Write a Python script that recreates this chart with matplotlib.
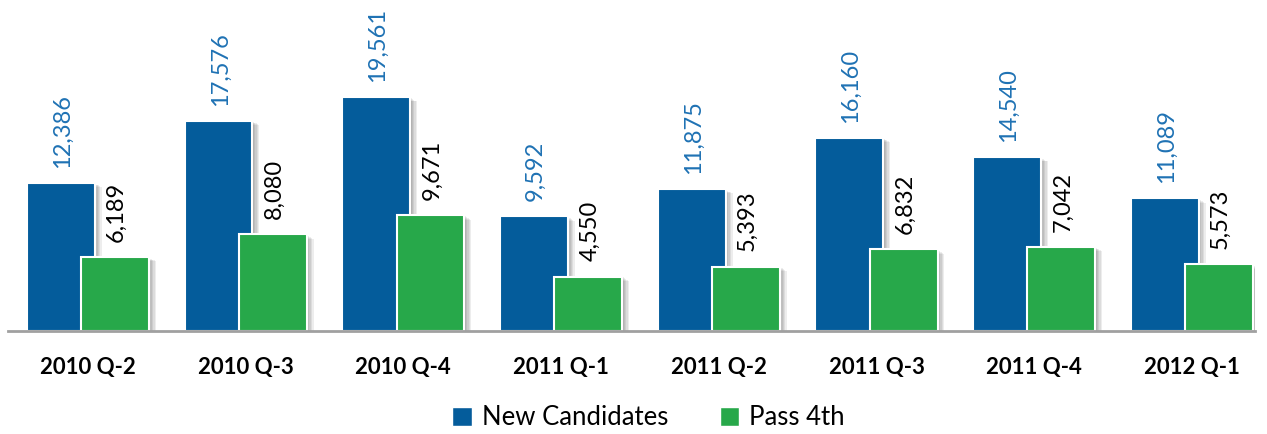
import numpy as np
import matplotlib
matplotlib.use('Agg')
import matplotlib.pyplot as plt
import matplotlib.patheffects as pe
from matplotlib.patches import Patch

quarters = ['2010 Q-2', '2010 Q-3', '2010 Q-4', '2011 Q-1', '2011 Q-2', '2011 Q-3', '2011 Q-4', '2012 Q-1']
new_candidates = [12386, 17576, 19561, 9592, 11875, 16160, 14540, 11089]
pass_4th = [6189, 8080, 9671, 4550, 5393, 6832, 7042, 5573]

blue = '#045c9b'
green = '#27a84a'
label_blue = '#1f72b4'

plt.rcParams['font.family'] = ['Lato', 'DejaVu Sans']

fig = plt.figure(figsize=(12.67, 4.34), dpi=100)
ax = fig.add_axes([8 / 1267, 103 / 434, 1247 / 1267, 331 / 434])

x = np.arange(len(quarters))
w = 0.43
off = 0.172
# soft drop shadow: several faint offset copies
shadow = [pe.SimplePatchShadow(offset=(k, -k * 0.6), shadow_rgbFace='#000000', alpha=0.07)
          for k in (1, 2, 3, 4, 5)] + [pe.Normal()]

b1 = ax.bar(x - off, new_candidates, w, color=blue, edgecolor='white', linewidth=1.5, zorder=2)
b2 = ax.bar(x + off, pass_4th, w, color=green, edgecolor='white', linewidth=1.5, zorder=3)
for b in list(b1) + list(b2):
    b.set_path_effects(shadow)

for xi, v in zip(x - off, new_candidates):
    ax.annotate(f'{v:,}', (xi, v), xytext=(1, 11), textcoords='offset points',
                rotation=90, ha='center', va='bottom', fontsize=17, color=label_blue)
for xi, v in zip(x + off, pass_4th):
    ax.annotate(f'{v:,}', (xi, v), xytext=(1, 11), textcoords='offset points',
                rotation=90, ha='center', va='bottom', fontsize=17, color='black')

ax.set_xlim(-0.507, 7.4)
ax.set_ylim(0, 27700)
ax.set_xticks(x)
ax.set_xticklabels(quarters, fontsize=16, fontweight='bold')
ax.tick_params(axis='x', length=0, pad=19)
ax.set_yticks([])
for s in ['top', 'right', 'left']:
    ax.spines[s].set_visible(False)
ax.spines['bottom'].set_color('#a0a0a0')
ax.spines['bottom'].set_linewidth(2)
ax.spines['bottom'].set_zorder(5)

handles = [Patch(facecolor=blue, edgecolor='white'), Patch(facecolor=green, edgecolor='white')]
fig.legend(handles=handles, labels=['New Candidates', 'Pass 4th'], loc='lower center',
           bbox_to_anchor=(0.512, -0.045), ncol=2, frameon=False, fontsize=18.5,
           handlelength=0.75, handleheight=0.75, handletextpad=0.4, columnspacing=2.0)

fig.savefig('out.png', dpi=100)
